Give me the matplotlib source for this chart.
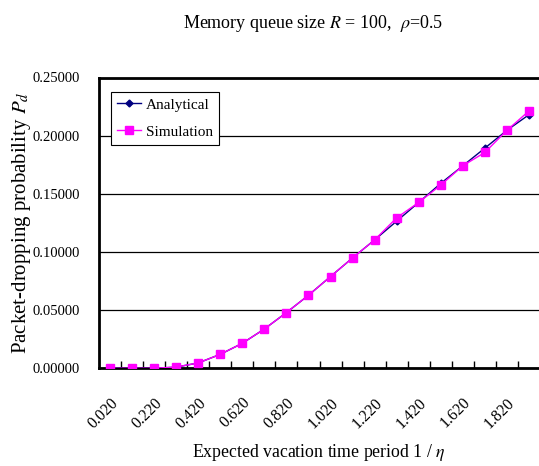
import matplotlib
matplotlib.use("Agg")
import matplotlib.pyplot as plt
import numpy as np

categories = ["0.020", "0.120", "0.220", "0.320", "0.420", "0.520", "0.620", "0.720",
              "0.820", "0.920", "1.020", "1.120", "1.220", "1.320", "1.420", "1.520",
              "1.620", "1.720", "1.820", "1.920"]
analytical = [0.0000, 0.0000, 0.0000, 0.0010, 0.0046, 0.0120, 0.0215, 0.0338,
              0.0479, 0.0628, 0.0789, 0.0949, 0.1104, 0.1265, 0.1426, 0.1590,
              0.1741, 0.1893, 0.2046, 0.2180]
simulation = [0.0000, 0.0000, 0.0000, 0.0011, 0.0046, 0.0120, 0.0215, 0.0338,
              0.0479, 0.0628, 0.0789, 0.0949, 0.1104, 0.1294, 0.1426, 0.1575,
              0.1741, 0.1856, 0.2046, 0.2212]
yticks = [0.0, 0.05, 0.10, 0.15, 0.20, 0.25]

plt.rcParams['font.family'] = ['Liberation Serif', 'DejaVu Serif']
plt.rcParams['mathtext.fontset'] = 'stix'

fig = plt.figure(figsize=(5.39, 4.66), dpi=100)
ax = fig.add_axes([99/539, (466-368.3)/466, 441/539, 290.8/466])

x = np.arange(len(categories))
ax.plot(x, analytical, color='#000080', lw=1.0, marker='D', ms=3.5,
        label='Analytical', zorder=3)
ax.plot(x, simulation, color='#FF00FF', lw=1.0, marker='s', ms=5.5,
        label='Simulation', zorder=4)

ax.set_xlim(-0.5, len(categories) - 0.5)
ax.set_ylim(0, 0.25)
ax.set_yticks(yticks)
ax.set_yticklabels([f"{v:.5f}" for v in yticks], fontsize=10.5)
ax.tick_params(axis='y', length=0, pad=14)
ax.grid(axis='y', color='black', lw=0.9)
ax.set_axisbelow(True)

ax.set_xticks(x[::2])
ax.set_xticklabels(categories[::2], rotation=45, ha='right', va='top',
                   rotation_mode='anchor', fontsize=11.5)
ax.tick_params(axis='x', which='major', length=0, pad=19)
ax.set_xticks(np.arange(0.5, len(categories) - 1, 1.0), minor=True)
ax.tick_params(axis='x', which='minor', direction='in', length=5, width=1, color='black')

for s in ['left', 'top', 'bottom']:
    ax.spines[s].set_linewidth(2)
ax.spines['right'].set_visible(False)

ax.set_ylabel('Packet-dropping probability $P_d$', fontsize=15)
ax.yaxis.set_label_coords(-0.150, 0.5)
fig.text(0.592, 0.030, 'Expected vacation time period 1 / $\\eta$', fontsize=12.8,
         ha='center', va='center')
fig.text(0.58, 0.950, 'Memory queue size $R$ = 100,  $\\rho$=0.5', fontsize=13,
         ha='center', va='center')

leg = ax.legend(loc='upper left', bbox_to_anchor=(0.027, 0.95),
                fontsize=11, frameon=True, fancybox=False, edgecolor='black',
                framealpha=1, borderpad=0.4, handlelength=1.6, handletextpad=0.3,
                labelspacing=0.85, borderaxespad=0)
leg.get_frame().set_linewidth(0.8)

fig.savefig('out.png', dpi=100)
